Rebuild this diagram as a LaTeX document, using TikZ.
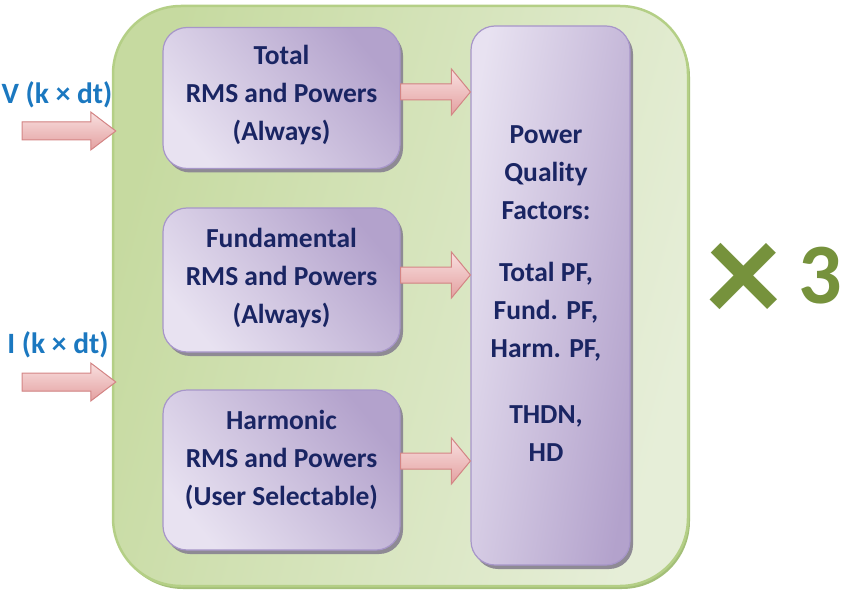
\documentclass[tikz,border=0pt]{standalone}
\usepackage{fontspec}
\setmainfont{Carlito}
\usetikzlibrary{shadows,calc}
\definecolor{navy}{HTML}{1A2563}
\definecolor{inblue}{HTML}{1B78C0}
\definecolor{olive}{HTML}{76923C}
\definecolor{contdark}{HTML}{C6DAA0}
\definecolor{contlight}{HTML}{E6EED8}
\definecolor{contborder}{HTML}{B4CF86}
\definecolor{contshadow}{HTML}{A3BF78}
\definecolor{plight}{HTML}{E8E2F1}
\definecolor{pdark}{HTML}{B3A2CC}
\definecolor{pborder}{HTML}{A796C9}
\definecolor{pshadow}{HTML}{8E8A94}
\definecolor{alight}{HTML}{F9E0E0}
\definecolor{adark}{HTML}{E3A0A0}
\definecolor{aborder}{HTML}{D48585}
\definecolor{ashadow}{HTML}{A98A86}
\newcommand\blockarrow[5]{%
  \fill[ashadow, xshift=3pt, yshift=-3pt] let \p1=(#1), \p2=(#2) in
    (\x1,\y1+#3pt) -- (\x2-#5pt,\y1+#3pt) -- (\x2-#5pt,\y1+#4pt) -- (\x2,\y1)
    -- (\x2-#5pt,\y1-#4pt) -- (\x2-#5pt,\y1-#3pt) -- (\x1,\y1-#3pt) -- cycle;
  \draw[barrow] let \p1=(#1), \p2=(#2) in
    (\x1,\y1+#3pt) -- (\x2-#5pt,\y1+#3pt) -- (\x2-#5pt,\y1+#4pt) -- (\x2,\y1)
    -- (\x2-#5pt,\y1-#4pt) -- (\x2-#5pt,\y1-#3pt) -- (\x1,\y1-#3pt) -- cycle;
}
\begin{document}
\begin{tikzpicture}[x=1pt,y=-1pt,
  cont/.style={rounded corners=68pt, draw=contborder, line width=2.5pt,
    left color=contdark, right color=contlight, shading angle=75,
    minimum width=575pt, minimum height=580pt, inner sep=0pt,
    drop shadow={shadow xshift=2pt, shadow yshift=-3pt, fill=contshadow, opacity=1}},
  pbox/.style={rounded corners=24pt, draw=pborder, line width=1.2pt,
    top color=pdark, bottom color=plight, shading angle=-50, inner sep=0pt,
    drop shadow={shadow xshift=3pt, shadow yshift=-4pt, fill=pshadow, opacity=1}},
  pqbox/.style={pbox, left color=plight, right color=pdark, shading angle=80},
  btext/.style={font=\fontsize{27.5}{38}\selectfont\bfseries, text=navy, align=center},
  inlabel/.style={font=\fontsize{29.5}{34}\selectfont\bfseries, text=inblue},
  timeslabel/.style={font=\fontsize{86}{90}\selectfont\bfseries, text=olive},
  barrow/.style={draw=aborder, line width=1pt, top color=alight, bottom color=adark, line join=miter}
]
\useasboundingbox (0,0) rectangle (843,596);
\node[cont] (cont) at (400.5,296) {};
% left boxes
\node[pbox, minimum width=237pt, minimum height=141pt] (b1) at (281.5,98) {};
\node[btext] (b1t) at (281.5,95) {Total\\RMS and Powers\\(Always)};
\node[pbox, minimum width=237pt, minimum height=144pt] (b2) at (281.5,280) {};
\node[btext] (b2t) at (281.5,278) {Fundamental\\RMS and Powers\\(Always)};
\node[pbox, minimum width=237pt, minimum height=160pt] (b3) at (281.5,470) {};
\node[btext] (b3t) at (281.5,460) {Harmonic\\RMS and Powers\\(User Selectable)};
% right box
\node[pqbox, minimum width=159pt, minimum height=539pt] (pq) at (550.5,295.5) {};
\node[btext] (pqt) at (546,294) {Power\\Quality\\Factors:\\[24pt]Total PF,\\Fund. PF,\\Harm. PF,\\[28pt]THDN,\\HD};
% inner arrows
\coordinate (a1) at (b1.east |- 0,92);
\coordinate (a2) at (b2.east |- 0,275);
\coordinate (a3) at (b3.east |- 0,461);
\blockarrow{a1}{pq.west |- a1}{8}{23}{19}
\blockarrow{a2}{pq.west |- a2}{8}{23}{19}
\blockarrow{a3}{pq.west |- a3}{8}{23}{19}
% inputs
\node[inlabel] (vl) at (57,95) {V (k × dt)};
\node[inlabel] (il) at (58,345) {I (k × dt)};
\coordinate (vs) at (22,131);
\coordinate (is) at (22,382);
\blockarrow{vs}{$(cont.west |- vs)+(4,0)$}{9}{19}{25}
\blockarrow{is}{$(cont.west |- is)+(4,0)$}{9}{19}{25}
% times 3
\node[timeslabel] (x3) at (774,283) {\raisebox{-20pt}{\scalebox{1.75}{×}}\hspace{0.2em}3};
\end{tikzpicture}
\end{document}
